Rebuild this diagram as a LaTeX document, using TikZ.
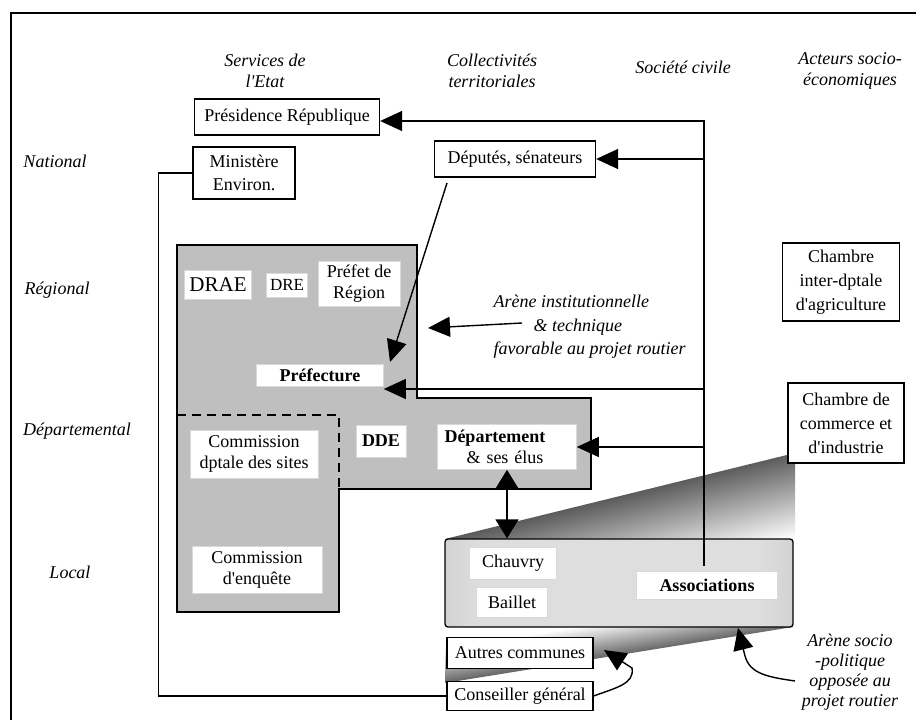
\documentclass[tikz,border=0pt]{standalone}
\usepackage{fontspec}
\setmainfont{Liberation Serif}[Ligatures=TeXOff]
\usetikzlibrary{arrows.meta}
\pgfdeclarehorizontalshading{assocshade}{100bp}{color(0bp)=(black!70); color(10bp)=(black!30); color(30bp)=(black!13); color(70bp)=(black!13); color(92bp)=(black!32); color(100bp)=(black!64)}
\pgfdeclareverticalshading{upwedge}{100bp}{color(0bp)=(white); color(20bp)=(white); color(50bp)=(black!64); color(100bp)=(black!64)}
\pgfdeclareverticalshading{lowwedge}{100bp}{color(0bp)=(black!60); color(50bp)=(black!60); color(68bp)=(white); color(100bp)=(white)}
\tikzset{
	box/.style={draw, fill=white, line width=1.3pt, inner sep=3pt, align=center},
	inbox/.style={draw=black!15, fill=white, line width=0.6pt, inner sep=3pt, align=center},
	lbl/.style={font=\fontsize{18}{21}\selectfont\itshape, align=center},
	arr/.style={line width=1.4pt, -{Triangle[length=22pt,width=20pt]}},
	duo/.style={line width=1.4pt, {Triangle[length=19pt,width=23pt]}-{Triangle[length=19pt,width=23pt]}}
}
\begin{document}
\begin{tikzpicture}[x=1pt, y=-1pt, font=\fontsize{18}{22}\selectfont]
	\useasboundingbox (0,0) rectangle (916,720);
	\draw[line width=2pt] (11,720) -- (11,13) -- (916,13);
	
	\node[lbl] (colEtat) at (265,71) {Services de\\l'Etat};
	\node[lbl] (colColl) at (492,71) {Collectivités\\territoriales};
	\node[lbl] (colCiv) at (683,67) {Société civile};
	\node[lbl] (colEco) at (850,71) {Acteurs socio-\\économiques};
	\node[lbl] (rowNat) at (55,161) {National};
	\node[lbl] (rowReg) at (57,290) {Régional};
	\node[lbl] (rowDep) at (77,431) {Départemental};
	\node[lbl] (rowLoc) at (70,572) {Local};
	
	\draw[line width=2pt, fill=black!25] (177,245) -- (417,245) -- (417,398) -- (591,398) -- (591,489) -- (339,489) -- (339,612) -- (177,612) -- cycle;
	\draw[line width=2.6pt, dash pattern=on 9pt off 6pt] (177,415) -- (339,415) -- (339,489);
	
	\path[shade, shading=upwedge, shading angle=14] (445,539) -- (795,453) -- (795,539) -- cycle;
	\path[shade, shading=lowwedge, shading angle=9] (445,627) -- (793,627) -- (445,683) -- cycle;
	\node[draw, line width=1.3pt, rounded corners=3pt, shade, shading=assocshade, minimum width=348pt, minimum height=88pt, inner sep=0pt] (arena) at (619,583) {};
	
	\node[inbox, minimum width=87pt, minimum height=32pt] (chauvry) at (513,563) {Chauvry};
	\node[inbox, minimum width=71pt, minimum height=30pt] (baillet) at (512,602) {Baillet};
	\node[inbox, minimum width=141pt, minimum height=28pt] (assoc) at (707,585) {\textbf{Associations}};
	
	\node[inbox, minimum width=67pt, minimum height=29pt, font=\fontsize{21}{24}\selectfont] (drae) at (218,285) {DRAE};
	\node[inbox, minimum width=41pt, minimum height=24pt, font=\fontsize{17}{20}\selectfont] (dre) at (287,285) {DRE};
	\node[inbox, minimum width=82pt, minimum height=45pt, font=\fontsize{18}{21}\selectfont] (prefReg) at (359,284) {Préfet de\\Région};
	\node[inbox, minimum width=127pt, minimum height=22pt] (prefec) at (320,375) {\textbf{Préfecture}};
	\node[inbox, minimum width=128pt, minimum height=48pt, font=\fontsize{18}{21}\selectfont] (comSites) at (254,454) {Commission\\dptale des sites};
	\node[inbox, minimum width=50pt, minimum height=32pt] (dde) at (381,441) {\textbf{DDE}};
	\node[inbox, text width=125pt, align=left, inner xsep=7pt, minimum height=45pt, font=\fontsize{18}{21}\selectfont] (dept) at (507,447) {\textbf{Département}\\\hspace*{22pt}\& ses élus};
	\node[inbox, minimum width=130pt, minimum height=47pt, font=\fontsize{18}{21}\selectfont] (comEnq) at (257,570) {Commission\\d'enquête};
	
	\node[box, minimum width=185pt, minimum height=36pt] (pres) at (287,117) {Présidence République};
	\node[box, minimum width=102pt, minimum height=52pt, font=\fontsize{18}{23}\selectfont] (mini) at (244,173) {Ministère\\Environ.};
	\node[box, minimum width=161pt, minimum height=36pt] (deput) at (515,159) {Députés, sénateurs};
	\node[box, minimum width=117pt, minimum height=78pt, font=\fontsize{18}{24}\selectfont] (chAgri) at (841,282) {Chambre\\inter-dptale\\d'agriculture};
	\node[box, minimum width=116pt, minimum height=80pt, font=\fontsize{18}{24}\selectfont] (chCom) at (846,423) {Chambre de\\commerce et\\d'industrie};
	\node[box, minimum width=146pt, minimum height=31pt] (autres) at (520,653) {Autres communes};
	\node[box, minimum width=146pt, minimum height=29pt] (cons) at (520,696) {Conseiller général};
	
	\node[lbl, align=left, anchor=west, font=\fontsize{18}{23.5}\selectfont\itshape] (arInst) at (490,327) {Arène institutionnelle\\\hspace*{40pt}\& technique\\favorable au projet routier};
	\node[lbl, font=\fontsize{18}{20}\selectfont\itshape] (arSoc) at (850,672) {Arène socio\\-politique\\opposée au\\projet routier};
	
	\coordinate (civBot) at (704,566);
	\coordinate (civTop) at (704,121);
	\coordinate (civPref) at (704,389);
	\draw[arr] (civBot) -- (civTop) -- (pres.east |- civTop);
	\draw[arr] (civTop |- deput.east) -- (deput.east);
	\draw[arr] (civPref) -- (prefec.south east |- civPref);
	\draw[arr] (civTop |- dept.east) -- (dept.east);
	
	\coordinate (depFoot) at (447,183);
	\coordinate (prefTip) at (390,362);
	\draw[arr] (depFoot) -- (prefTip);
	\coordinate (instTail) at (522,323);
	\coordinate (instTip) at (428,328);
	\draw[arr] (instTail) -- (instTip);
	
	\draw[duo] (dept.south) -- (dept.south |- arena.north);
	\draw[line width=1.4pt] (mini.west) -- ++(-34,0) |- (cons.west);
	
	\coordinate (consTip) at (604,650);
	\draw[arr] (cons.east) .. controls (615,688) and (635,684) .. (632,668) -- (consTip);
	\coordinate (socTail) at (795,681);
	\coordinate (socTip) at (738,628);
	\draw[arr] (socTail) .. controls (768,677) and (750,674) .. (745,656) -- (socTip);
\end{tikzpicture}
\end{document}
